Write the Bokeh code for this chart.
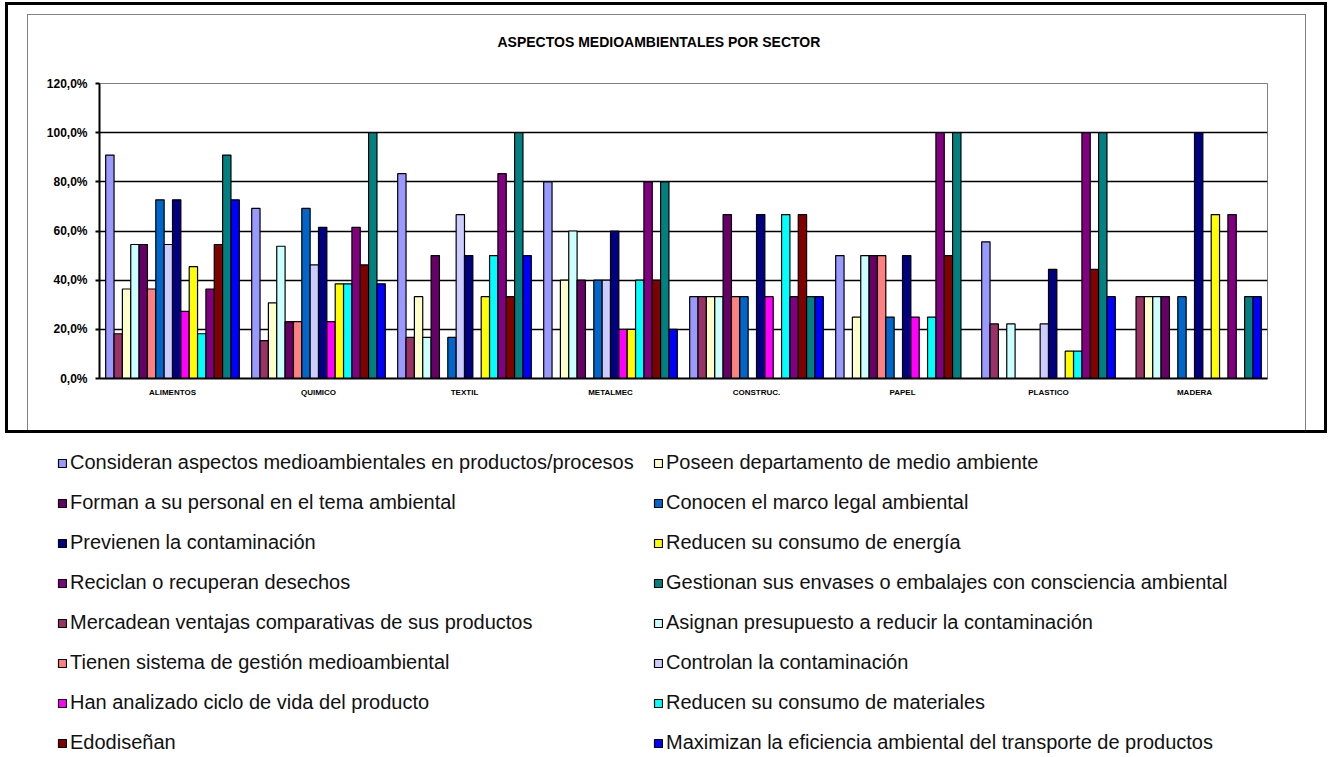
from bokeh.plotting import figure
from bokeh.layouts import column
from bokeh.models import (FactorRange, FixedTicker, Legend, LegendItem, ColumnDataSource, Range1d,
                          Title)
from bokeh.transform import dodge
from bokeh.embed import file_html
from bokeh.resources import INLINE

# ---------------- data ----------------
sectors = ["ALIMENTOS", "QUIMICO", "TEXTIL", "METALMEC", "CONSTRUC.", "PAPEL", "PLASTICO", "MADERA"]

series_names = [
    "Consideran aspectos medioambientales en productos/procesos",
    "Mercadean ventajas comparativas de sus productos",
    "Poseen departamento de medio ambiente",
    "Asignan presupuesto a reducir la contaminación",
    "Forman a su personal en el tema ambiental",
    "Tienen sistema de gestión medioambiental",
    "Conocen el marco legal ambiental",
    "Controlan la contaminación",
    "Previenen la contaminación",
    "Han analizado ciclo de vida del producto",
    "Reducen su consumo de energía",
    "Reducen su consumo de materiales",
    "Reciclan o recuperan desechos",
    "Edodiseñan",
    "Gestionan sus envases o embalajes con consciencia ambiental",
    "Maximizan la eficiencia ambiental del transporte de productos",
]
series_colors = ["#9999FF", "#993366", "#FFFFCC", "#CCFFFF", "#660066", "#FF8080", "#0066CC", "#CCCCFF",
                 "#000080", "#FF00FF", "#FFFF00", "#00FFFF", "#800080", "#800000", "#008080", "#0000FF"]

consideran = [90.9, 69.2, 83.3, 80.0, 33.3, 50.0, 55.6, 0.0]
mercadean = [18.2, 15.4, 16.7, 0.0, 33.3, 0.0, 22.2, 33.3]
poseen = [36.4, 30.8, 33.3, 40.0, 33.3, 25.0, 0.0, 33.3]
asignan = [54.5, 53.8, 16.7, 60.0, 33.3, 50.0, 22.2, 33.3]
forman = [54.5, 23.1, 50.0, 40.0, 66.7, 50.0, 0.0, 33.3]
tienen = [36.4, 23.1, 0.0, 0.0, 33.3, 50.0, 0.0, 0.0]
conocen = [72.7, 69.2, 16.7, 40.0, 33.3, 25.0, 0.0, 33.3]
controlan = [54.5, 46.2, 66.7, 40.0, 0.0, 0.0, 22.2, 0.0]
previenen = [72.7, 61.5, 50.0, 60.0, 66.7, 50.0, 44.4, 100.0]
ciclo_vida = [27.3, 23.1, 0.0, 20.0, 33.3, 25.0, 0.0, 0.0]
energia = [45.5, 38.5, 33.3, 20.0, 0.0, 0.0, 11.1, 66.7]
materiales = [18.2, 38.5, 50.0, 40.0, 66.7, 25.0, 11.1, 0.0]
reciclan = [36.4, 61.5, 83.3, 80.0, 33.3, 100.0, 100.0, 66.7]
edodisenan = [54.5, 46.2, 33.3, 40.0, 66.7, 50.0, 44.4, 0.0]
gestionan = [90.9, 100.0, 100.0, 80.0, 33.3, 100.0, 100.0, 33.3]
maximizan = [72.7, 38.5, 50.0, 20.0, 33.3, 0.0, 33.3, 33.3]

series_values = [consideran, mercadean, poseen, asignan, forman, tienen, conocen, controlan,
                 previenen, ciclo_vida, energia, materiales, reciclan, edodisenan, gestionan, maximizan]

legend_left_order = [0, 4, 8, 12, 1, 5, 9, 13]
legend_right_order = [2, 6, 10, 14, 3, 7, 11, 15]

y_ticks = [0, 20, 40, 60, 80, 100, 120]
y_tick_labels = ["0,0%", "20,0%", "40,0%", "60,0%", "80,0%", "100,0%", "120,0%"]
grid_ticks = [20, 40, 60, 80, 100]

title_text = "ASPECTOS MEDIOAMBIENTALES POR SECTOR"

# ---------------- chart ----------------
PW, PH = 1279, 416
p = figure(x_range=FactorRange(*sectors), y_range=(0, 120), width=PW, height=PH,
           output_backend="svg", toolbar_location=None, title=None,
           min_border_left=71, min_border_right=40, min_border_top=68, min_border_bottom=53,
           styles={"border-left": "1px solid #808080", "border-top": "1px solid #808080",
                   "border-right": "1px solid #808080"})
p.background_fill_color = "white"
p.border_fill_color = "white"
p.outline_line_color = "#808080"
p.outline_line_width = 1

# spacer (closest to the frame) then the real title
p.add_layout(Title(text=" ", text_font_size="1px", standoff=31), "above")
p.add_layout(Title(text=title_text, align="left", offset=398, vertical_align="bottom", standoff=0,
                   text_font="Liberation Sans", text_font_style="bold", text_font_size="14px",
                   text_color="black"), "above")

src = ColumnDataSource(dict(sector=sectors, **{f"s{k}": v for k, v in enumerate(series_values)}))
bar_w = 0.0572
for k, color in enumerate(series_colors):
    p.vbar(x=dodge("sector", (k - 7.5) * bar_w, range=p.x_range), top=f"s{k}", bottom=0,
           width=bar_w, source=src, fill_color=color, line_color="black", line_width=1.2)

p.yaxis.ticker = FixedTicker(ticks=y_ticks)
p.yaxis.major_label_overrides = {t: l for t, l in zip(y_ticks, y_tick_labels)}
p.yaxis.major_label_text_font = "Liberation Sans"
p.yaxis.major_label_text_font_style = "bold"
p.yaxis.major_label_text_font_size = "12px"
p.yaxis.major_label_text_color = "black"
p.yaxis.axis_line_color = "black"
p.yaxis.axis_line_width = 2
p.yaxis.major_tick_line_color = "black"
p.yaxis.major_tick_line_width = 2
p.yaxis.major_tick_out = 4
p.yaxis.major_tick_in = 0
p.yaxis.minor_tick_line_color = None
p.yaxis.major_label_standoff = 8

p.xaxis.major_label_text_font = "Liberation Sans"
p.xaxis.major_label_text_font_style = "bold"
p.xaxis.major_label_text_font_size = "8px"
p.xaxis.major_label_text_color = "black"
p.xaxis.axis_line_color = "black"
p.xaxis.axis_line_width = 2
p.xaxis.major_tick_line_color = None
p.xaxis.major_tick_out = 4
p.xaxis.major_label_standoff = 5

p.xgrid.grid_line_color = None
p.ygrid.ticker = FixedTicker(ticks=grid_ticks)
p.ygrid.grid_line_color = "black"
p.ygrid.grid_line_width = 1.4
p.ygrid.level = "underlay"

box = column(p, styles={"border": "3px solid black", "padding": "9px 18px 0px 19px"})
box.margin = (2, 0, 0, 5)

# ---------------- legend (separate panel under the box) ----------------
LW, LH = 1335, 320
lf = figure(width=LW, height=LH, output_backend="svg", toolbar_location=None,
            x_axis_location=None, y_axis_location=None,
            x_range=Range1d(1, 2), y_range=Range1d(1, 2),
            min_border_left=0, min_border_right=0, min_border_top=0, min_border_bottom=0)
lf.outline_line_color = None
lf.grid.grid_line_color = None
# legend proxies: one bar per series, kept outside the visible range
proxies = [lf.vbar(x=[0], top=[0], width=0.5, fill_color=c, line_color="black", line_width=1.2)
           for c in series_colors]


def make_legend(order, x_left):
    leg = Legend(items=[LegendItem(label=series_names[i], renderers=[proxies[i]]) for i in order],
                 location=(x_left, -1), orientation="vertical")
    leg.label_text_font = "Liberation Sans"
    leg.label_text_font_size = "20px"
    leg.label_text_color = "#111111"
    leg.glyph_width = 10
    leg.glyph_height = 10
    leg.label_standoff = 3
    leg.label_height = 23
    leg.spacing = 17
    leg.padding = 0
    leg.margin = 0
    leg.border_line_color = None
    leg.background_fill_alpha = 0
    return leg


lf.add_layout(make_legend(legend_left_order, 57))
lf.add_layout(make_legend(legend_right_order, 653))

page = column(box, lf)
open("out.html", "w").write(file_html(page, INLINE))
